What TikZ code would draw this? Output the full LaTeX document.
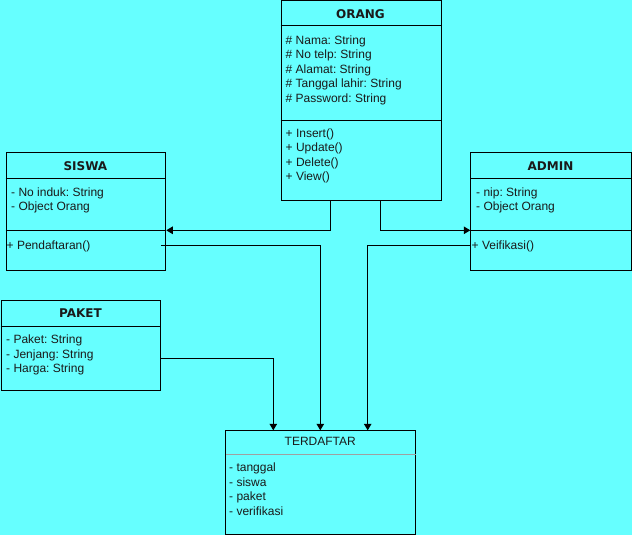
\documentclass[tikz,border=0pt]{standalone}
\usepackage{fontspec}
\setmainfont{Liberation Sans}
\newfontfamily\titlefont{DejaVu Sans}
\usetikzlibrary{arrows.meta}
\definecolor{bg}{HTML}{66FFFF}
\definecolor{txtc}{HTML}{1A1A1A}
\definecolor{divgray}{HTML}{A0A0A0}
\frenchspacing
\begin{document}
\frenchspacing
\begin{tikzpicture}[x=1pt,y=-1pt,
  umlbox/.style={draw=black, line width=1pt, anchor=north west, inner sep=0pt},
  ttl/.style={inner sep=0pt, font=\titlefont\bfseries\fontsize{12}{14}\selectfont, text=txtc},
  ttlplain/.style={inner sep=0pt, font=\fontsize{12}{14}\selectfont, text=txtc},
  lbl/.style={inner sep=0pt, anchor=base west, font=\fontsize{12}{14}\selectfont, text=txtc},
  divline/.style={line width=1pt, draw=black},
  conn/.style={line width=1pt, draw=black, -{Triangle[length=6.5pt,width=7.5pt]}}]
\useasboundingbox (0,0) rectangle (632,535);
\fill[bg] (0,0) rectangle (632,535);

% boxes
\node[umlbox, minimum width=160pt, minimum height=199.8pt] (orang) at (280.5,0.5) {};
\node[umlbox, minimum width=159.8pt, minimum height=117.7pt] (siswa) at (5.5,152.3) {};
\node[umlbox, minimum width=160.4pt, minimum height=117.7pt] (admin) at (470.3,152.3) {};
\node[umlbox, minimum width=159.8pt, minimum height=90pt] (paket) at (0.5,300.3) {};
\node[umlbox, minimum width=190pt, minimum height=103.4pt] (terdaftar) at (225.3,430.3) {};

% dividers
\draw[divline] (orang.west |- 0,26) -- (orang.east |- 0,26);
\draw[divline] (orang.west |- 0,120) -- (orang.east |- 0,120);
\draw[divline] (siswa.west |- 0,178.5) -- (siswa.east |- 0,178.5);
\draw[divline] (siswa.west |- 0,230.3) -- (siswa.east |- 0,230.3);
\draw[divline] (admin.west |- 0,178.5) -- (admin.east |- 0,178.5);
\draw[divline] (admin.west |- 0,230.3) -- (admin.east |- 0,230.3);
\draw[divline] (paket.west |- 0,326.3) -- (paket.east |- 0,326.3);
\draw[line width=1pt, draw=divgray] ([xshift=0.5pt]terdaftar.west |- 0,454.5) -- ([xshift=-0.5pt]terdaftar.east |- 0,454.5);

% titles
\node[ttl] (orangT) at (360.5,13.8) {ORANG};
\node[ttl] (siswaT) at (85.4,165.8) {SISWA};
\node[ttl] (adminT) at (550.5,165.8) {ADMIN};
\node[ttl] (paketT) at (80.4,313.6) {PAKET};
\node[ttlplain] (terdT) at (320.3,441.3) {TERDAFTAR};

% ORANG texts (baselines)
\node[lbl] (oa1) at (285.5,44.3) {\# Nama: String};
\node[lbl] (oa2) at (285.5,58.8) {\# No telp: String};
\node[lbl] (oa3) at (285.5,73.3) {\# Alamat: String};
\node[lbl] (oa4) at (285.5,87.8) {\# Tanggal lahir: String};
\node[lbl] (oa5) at (285.5,102.3) {\# Password: String};
\node[lbl] (om1) at (285.5,137.3) {+ Insert()};
\node[lbl] (om2) at (285.5,151.8) {+ Update()};
\node[lbl] (om3) at (285.5,166.3) {+ Delete()};
\node[lbl] (om4) at (285.5,180.8) {+ View()};

% SISWA texts
\node[lbl] (sa1) at (11,196.3) {- No induk: String};
\node[lbl] (sa2) at (11,210.3) {- Object Orang};
\node[lbl] (sm1) at (6.5,249.3) {+ Pendaftaran()};

% ADMIN texts
\node[lbl] (aa1) at (476,196.3) {- nip: String};
\node[lbl] (aa2) at (476,210.3) {- Object Orang};
\node[lbl] (am1) at (471.5,249.3) {+ Veifikasi()};

% PAKET texts
\node[lbl] (pa1) at (6,343.8) {- Paket: String};
\node[lbl] (pa2) at (6,358.3) {- Jenjang: String};
\node[lbl] (pa3) at (6,372.8) {- Harga: String};

% TERDAFTAR texts
\node[lbl] (ta1) at (229,471.8) {- tanggal};
\node[lbl] (ta2) at (229,486.3) {- siswa};
\node[lbl] (ta3) at (229,500.8) {- paket};
\node[lbl] (ta4) at (229,515.3) {- verifikasi};

% connectors
\coordinate (o1) at (330.3,200.3);
\coordinate (o2) at (380.3,200.3);
\coordinate (s2) at (161,245.3);
\draw[conn] (o1) |- (siswa.east |- 0,230.3);
\draw[conn] (o2) |- (admin.west |- 0,230.3);
\draw[conn] (s2) -| (terdaftar.north -| 320.3,0);
\draw[conn] (admin.west |- 0,245.3) -| (terdaftar.north -| 367.7,0);
\draw[conn] (paket.east |- 0,358.7) -| (terdaftar.north -| 273.3,0);
\end{tikzpicture}
\end{document}
